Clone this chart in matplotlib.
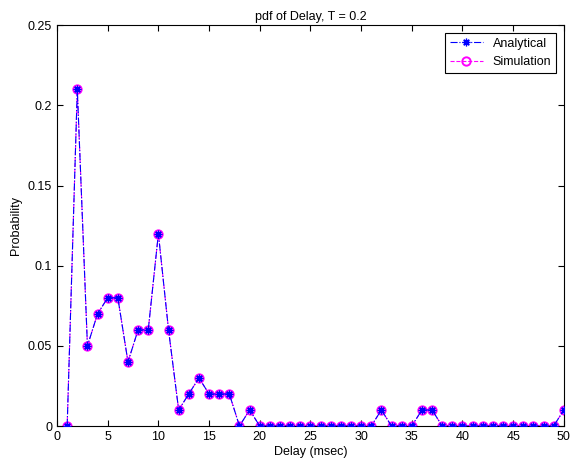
import matplotlib
matplotlib.use("Agg")
import matplotlib.pyplot as plt
import numpy as np

plt.rcParams['font.family'] = ['Liberation Sans', 'DejaVu Sans']

delay = list(range(1, 51))
analytical = [0, 0.21, 0.05, 0.07, 0.08, 0.08, 0.04, 0.06, 0.06, 0.12,
              0.06, 0.01, 0.02, 0.03, 0.02, 0.02, 0.02, 0, 0.01, 0,
              0, 0, 0, 0, 0, 0, 0, 0, 0, 0,
              0, 0.01, 0, 0, 0, 0.01, 0.01, 0, 0, 0,
              0, 0, 0, 0, 0, 0, 0, 0, 0, 0.01]
simulation = list(analytical)

fig = plt.figure(figsize=(5.72, 4.66), dpi=100)
ax = fig.add_axes([0.0997, 0.0858, 0.886, 0.860])

ax.plot(delay, simulation, linestyle='--', color='#ff00ff', marker='o',
        markerfacecolor='none', markeredgecolor='#ff00ff', markersize=6,
        markeredgewidth=1.4, linewidth=0.8, label='Simulation', zorder=2)
ax.plot(delay, analytical, linestyle='-.', color='#0000ff', marker=(8, 2, 0),
        markersize=5.5, markeredgewidth=0.9, linewidth=0.8, label='Analytical', zorder=3)

ax.set_xlim(0, 50)
ax.set_ylim(0, 0.25)
ax.set_xticks(np.arange(0, 51, 5))
ax.set_yticks([0, 0.05, 0.1, 0.15, 0.2, 0.25])
ax.set_yticklabels(['0', '0.05', '0.1', '0.15', '0.2', '0.25'])
ax.tick_params(direction='in', top=True, right=True, labelsize=9, length=4)
ax.set_title('pdf of Delay, T = 0.2', fontsize=9, pad=4)
ax.set_xlabel('Delay (msec)', fontsize=9, labelpad=2)
ax.set_ylabel('Probability', fontsize=9, labelpad=4)

handles, labels = ax.get_legend_handles_labels()
leg = ax.legend(handles[::-1], labels[::-1], loc='upper right', fontsize=9,
                fancybox=False, edgecolor='black', framealpha=1,
                handlelength=2.6, borderaxespad=0.6)
leg.get_frame().set_linewidth(0.8)

fig.savefig('out.png', dpi=100)
